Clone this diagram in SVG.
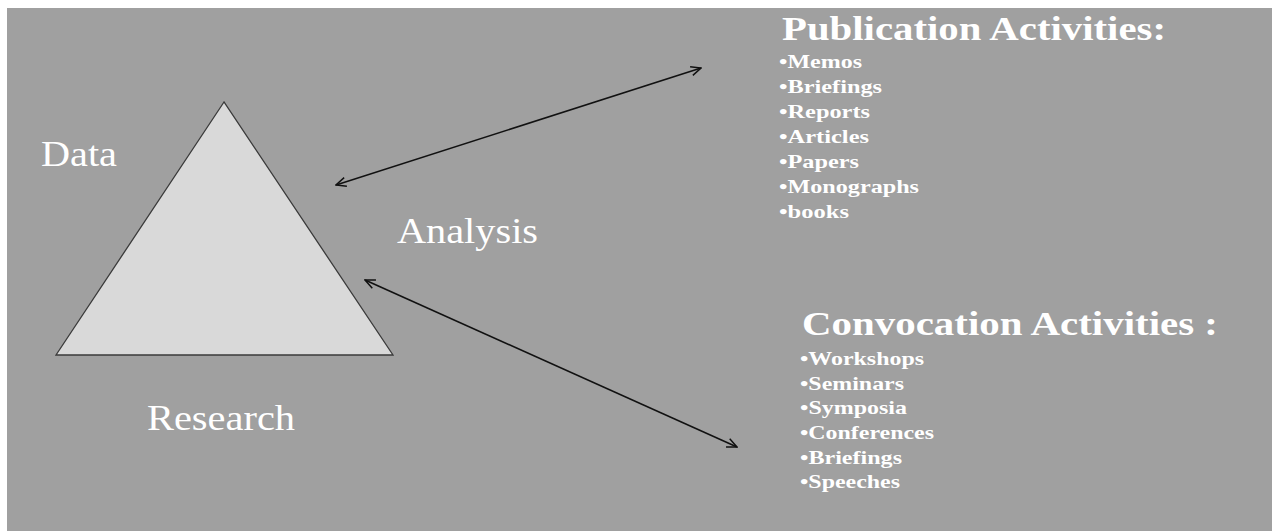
<svg xmlns="http://www.w3.org/2000/svg" width="1274" height="531" viewBox="0 0 1274 531">
  <defs>
    <marker id="open-arrow" viewBox="0 0 12 12" refX="11" refY="6" markerWidth="12" markerHeight="12" markerUnits="userSpaceOnUse" orient="auto-start-reverse">
      <path d="M1,1.5 L11,6 L1,10.5" fill="none" stroke="#111" stroke-width="1.5"/>
    </marker>
  </defs>
  <style>
    .serif { font-family: "Liberation Serif", "Times New Roman", serif; fill: #ffffff; }
    .label { font-size: 35px; }
    .head { font-size: 34px; font-weight: bold; }
    .item { font-size: 19.5px; font-weight: bold; }
    .conn { stroke: #111; stroke-width: 1.6; fill: none; marker-start: url(#open-arrow); marker-end: url(#open-arrow); }
  </style>

  <!-- page -->
  <rect x="0" y="0" width="1274" height="531" fill="#ffffff"/>
  <rect x="7" y="8" width="1265" height="523" fill="#a0a0a0"/>

  <!-- pyramid -->
  <g id="pyramid">
    <polygon points="224,102 56,355 393,355" fill="#d9d9d9" stroke="#3a3a3a" stroke-width="1.3"/>
  </g>

  <g id="data-label">
    <text class="serif label" x="41" y="166" textLength="76" lengthAdjust="spacingAndGlyphs">Data</text>
  </g>
  <g id="research-label">
    <text class="serif label" x="147" y="430" textLength="148" lengthAdjust="spacingAndGlyphs">Research</text>
  </g>
  <g id="analysis-label">
    <text class="serif label" x="397" y="243" textLength="141" lengthAdjust="spacingAndGlyphs">Analysis</text>
  </g>

  <!-- publication list -->
  <g id="publication">
    <text class="serif head" x="782" y="40" textLength="384" lengthAdjust="spacingAndGlyphs">Publication Activities:</text>
    <text class="serif item" x="779" y="68" textLength="83" lengthAdjust="spacingAndGlyphs">•Memos</text>
    <text class="serif item" x="779" y="93" textLength="103" lengthAdjust="spacingAndGlyphs">•Briefings</text>
    <text class="serif item" x="779" y="118" textLength="91" lengthAdjust="spacingAndGlyphs">•Reports</text>
    <text class="serif item" x="779" y="143" textLength="90" lengthAdjust="spacingAndGlyphs">•Articles</text>
    <text class="serif item" x="779" y="168" textLength="80" lengthAdjust="spacingAndGlyphs">•Papers</text>
    <text class="serif item" x="779" y="193" textLength="140" lengthAdjust="spacingAndGlyphs">•Monographs</text>
    <text class="serif item" x="779" y="218" textLength="70" lengthAdjust="spacingAndGlyphs">•books</text>
  </g>

  <!-- convocation list -->
  <g id="convocation">
    <text class="serif head" x="802" y="335" textLength="416" lengthAdjust="spacingAndGlyphs">Convocation Activities :</text>
    <text class="serif item" x="800" y="365" textLength="124" lengthAdjust="spacingAndGlyphs">•Workshops</text>
    <text class="serif item" x="800" y="390" textLength="104" lengthAdjust="spacingAndGlyphs">•Seminars</text>
    <text class="serif item" x="800" y="414" textLength="107" lengthAdjust="spacingAndGlyphs">•Symposia</text>
    <text class="serif item" x="800" y="439" textLength="134" lengthAdjust="spacingAndGlyphs">•Conferences</text>
    <text class="serif item" x="800" y="464" textLength="102" lengthAdjust="spacingAndGlyphs">•Briefings</text>
    <text class="serif item" x="800" y="488" textLength="100" lengthAdjust="spacingAndGlyphs">•Speeches</text>
  </g>

  <!-- two-way links -->
  <g id="connectors">
    <line class="conn" x1="336" y1="185" x2="701" y2="68"/>
    <line class="conn" x1="365" y1="280" x2="737" y2="447"/>
  </g>
</svg>
